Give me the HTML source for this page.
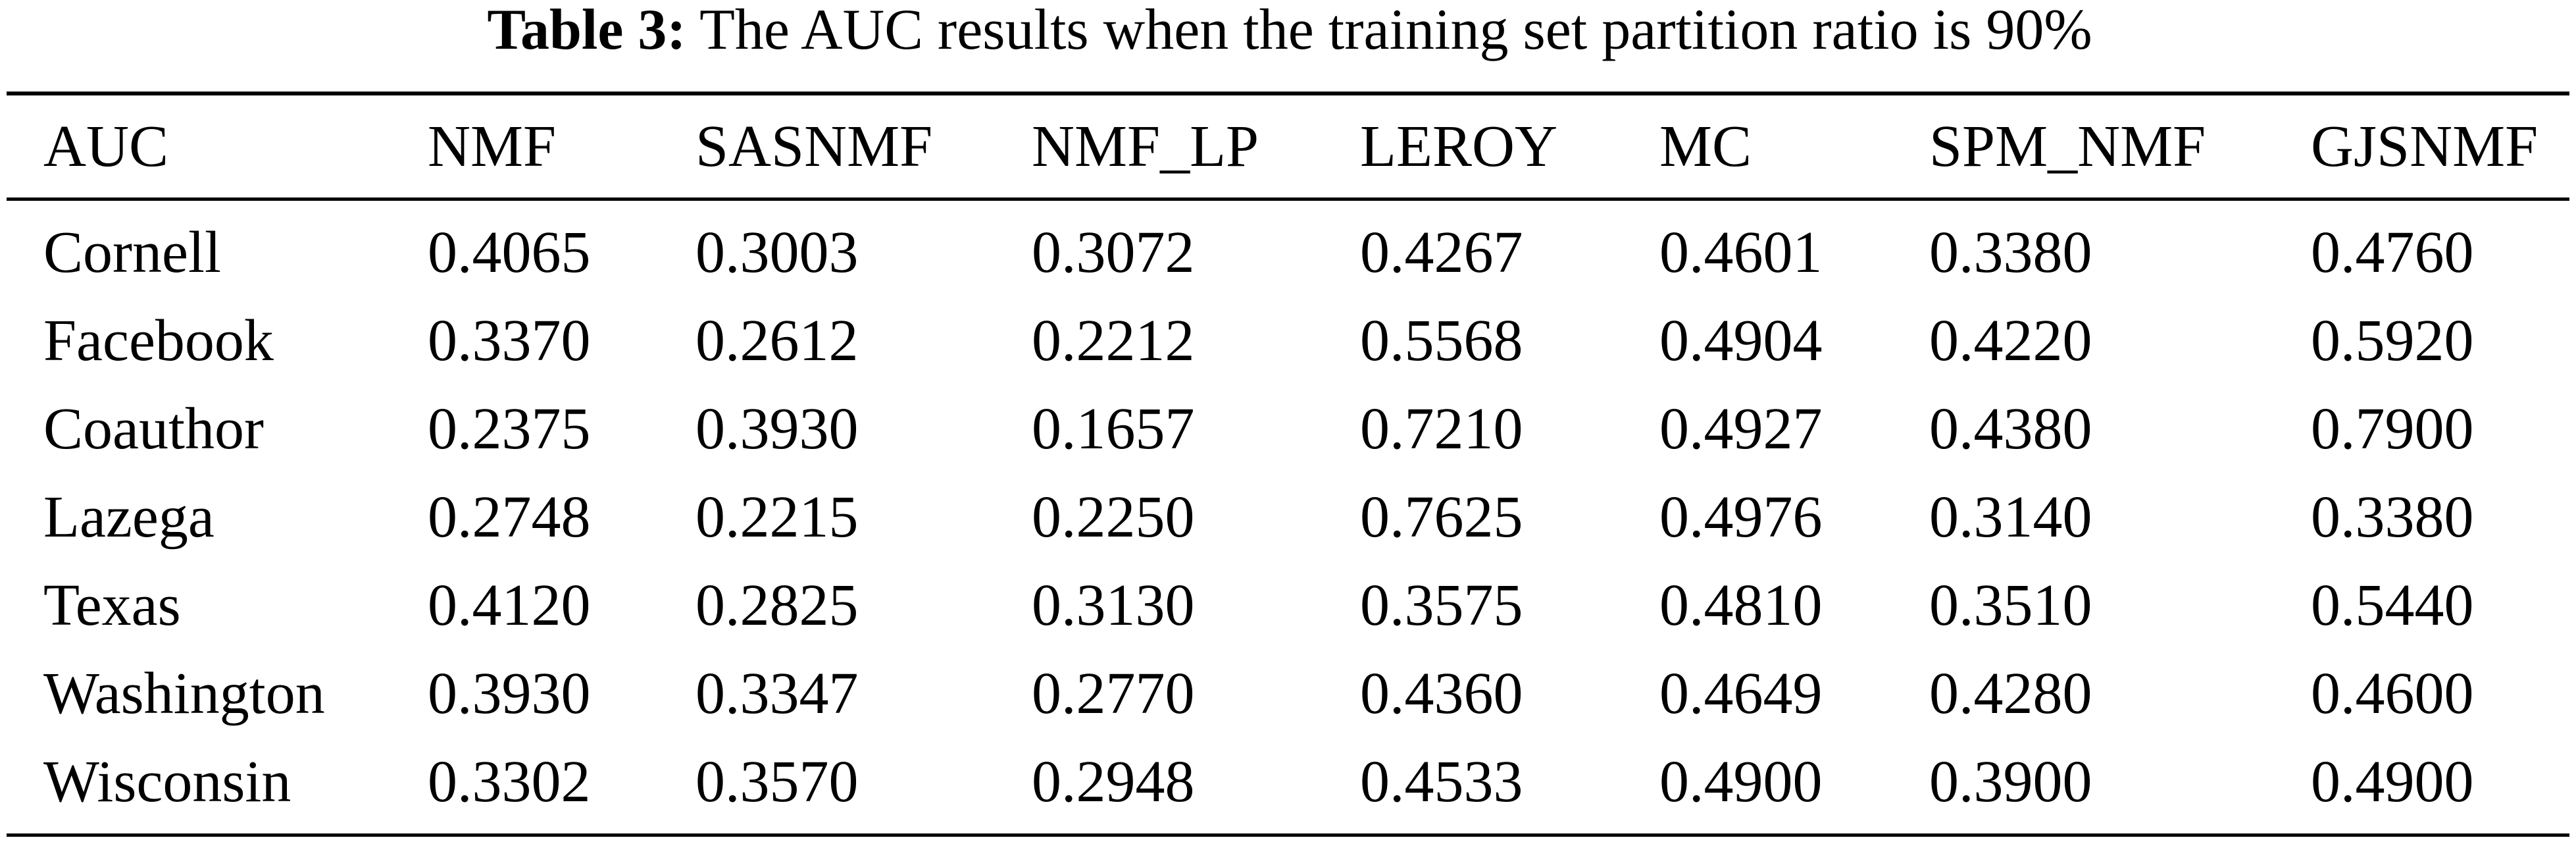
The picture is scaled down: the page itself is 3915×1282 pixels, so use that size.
<!DOCTYPE html>
<html><head><meta charset="utf-8"><style>
html,body{margin:0;padding:0;background:#fff;}
svg{display:block;font-family:"Liberation Serif",serif;}
</style></head><body>
<svg id="t" width="3915" height="1282" viewBox="0 0 3915 1282">
<text x="1960" y="74" text-anchor="middle" font-size="88"><tspan font-weight="bold">Table 3:</tspan>  The AUC results when the training set partition ratio is 90%</text>
<rect x="10" y="139" width="3895" height="6" fill="#000"/>
<rect x="10" y="300" width="3895" height="5" fill="#000"/>
<rect x="10" y="1266" width="3895" height="5" fill="#000"/>
</svg>
<script>
const headers = ["AUC","NMF","SASNMF","NMF_LP","LEROY","MC","SPM_NMF","GJSNMF"];
const datasets = ["Cornell","Facebook","Coauthor","Lazega","Texas","Washington","Wisconsin"];
const nmf = ["0.4065","0.3370","0.2375","0.2748","0.4120","0.3930","0.3302"];
const sasnmf = ["0.3003","0.2612","0.3930","0.2215","0.2825","0.3347","0.3570"];
const nmfLp = ["0.3072","0.2212","0.1657","0.2250","0.3130","0.2770","0.2948"];
const leroy = ["0.4267","0.5568","0.7210","0.7625","0.3575","0.4360","0.4533"];
const mc = ["0.4601","0.4904","0.4927","0.4976","0.4810","0.4649","0.4900"];
const spmNmf = ["0.3380","0.4220","0.4380","0.3140","0.3510","0.4280","0.3900"];
const gjsnmf = ["0.4760","0.5920","0.7900","0.3380","0.5440","0.4600","0.4900"];
const colX = [66,650,1057,1568,2067,2522,2932,3512];
const svg = document.getElementById('t');
const NS = "http://www.w3.org/2000/svg";
function txt(x,y,s,name){
  const e=document.createElementNS(NS,'text');
  e.setAttribute('x',x);e.setAttribute('y',y);e.setAttribute('font-size','90');
  
  
  e.textContent=s;svg.appendChild(e);
}
headers.forEach((h,i)=>txt(colX[i],252,h,'header-'+h.toLowerCase()));
const cols=[datasets,nmf,sasnmf,nmfLp,leroy,mc,spmNmf,gjsnmf];
datasets.forEach((d,r)=>{
  const y=413+r*134;
  cols.forEach((c,i)=>txt(colX[i],y,c[r],'cell-'+d.toLowerCase()+'-'+headers[i].toLowerCase()));
});
</script>
</body></html>
